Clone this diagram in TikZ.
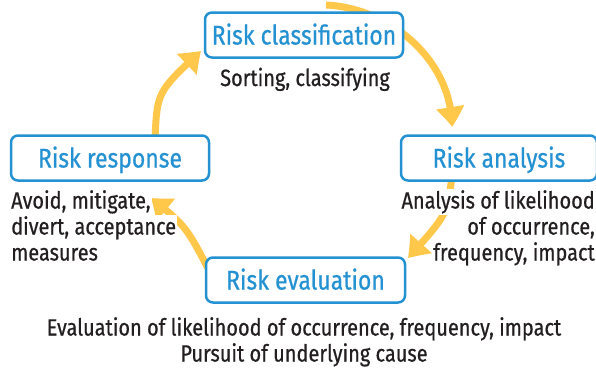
\documentclass[tikz,border=0pt]{standalone}
\usepackage{fontspec}
\setmainfont[FakeStretch=0.85,FakeBold=0.6]{Fira Sans}
\usetikzlibrary{arrows.meta,bending}
\definecolor{boxblue}{HTML}{2491D2}
\definecolor{arrowyellow}{HTML}{FFC84A}
\definecolor{txt}{HTML}{231F20}
\newcommand{\lineonwhite}[1]{{\setlength{\fboxsep}{1pt}\colorbox{white}{#1}}}
\begin{document}
\begin{tikzpicture}[x=1pt,y=-1pt,
  stagebox/.style={draw=boxblue, line width=2.5pt, rounded corners=7pt, fill=white,
    text=boxblue, minimum width=198pt, minimum height=45pt, inner sep=0pt,
    text height=19pt, text depth=0pt, font=\fontsize{27}{30}\selectfont},
  note/.style={text=txt, inner sep=0pt, font=\fontsize{23.5}{26}\selectfont},
  cyc/.style={draw=arrowyellow, line width=7pt, -{Triangle[width=27pt,length=20pt,bend]}}]
\useasboundingbox (0,0) rectangle (596,367);
\fill[white] (0,0) rectangle (596,367);

% cycle arrows (drawn first, boxes and notes cover them)
\coordinate (a1s) at (155,140);
\coordinate (a1e) at (201,51);
\coordinate (a2s) at (326,5);
\coordinate (a2e) at (452,127);
\coordinate (a3s) at (452,176);
\coordinate (a3e) at (408,258);
\coordinate (a4s) at (212,276);
\coordinate (a4e) at (151,198);
\draw[cyc] (a1s) .. controls (157,92) .. (a1e);
\draw[cyc] (a2s) .. controls (390,8) and (452,60) .. (a2e);
\draw[cyc] (a3s) .. controls (447,215) .. (a3e);
\draw[cyc] (a4s) .. controls (186,226) .. (a4e);

% stages
\node[stagebox] (cls) at (304,35) {Risk classification};
\node[stagebox, minimum width=196pt] (ana) at (499,158) {Risk analysis};
\node[stagebox] (resp) at (110,158) {Risk response};
\node[stagebox, minimum width=199pt] (eval) at (305.5,280) {Risk evaluation};

% notes
\node[note, anchor=base] (clsnote) at (305,86) {\lineonwhite{Sorting, classifying}};
\node[note, anchor=north east, align=right] (ananote) at (596,189)
  {\lineonwhite{Analysis of likelihood}\\\lineonwhite{of occurrence,}\\\lineonwhite{frequency, impact}};
\node[note, anchor=north west, align=left] (respnote) at (10,189)
  {\lineonwhite{Avoid, mitigate,}\\\lineonwhite{divert, acceptance}\\\lineonwhite{measures}};
\node[note, anchor=north, align=center] (evalnote) at (304,316)
  {\lineonwhite{Evaluation of likelihood of occurrence, frequency, impact}\\\lineonwhite{Pursuit of underlying cause}};
\end{tikzpicture}
\end{document}
